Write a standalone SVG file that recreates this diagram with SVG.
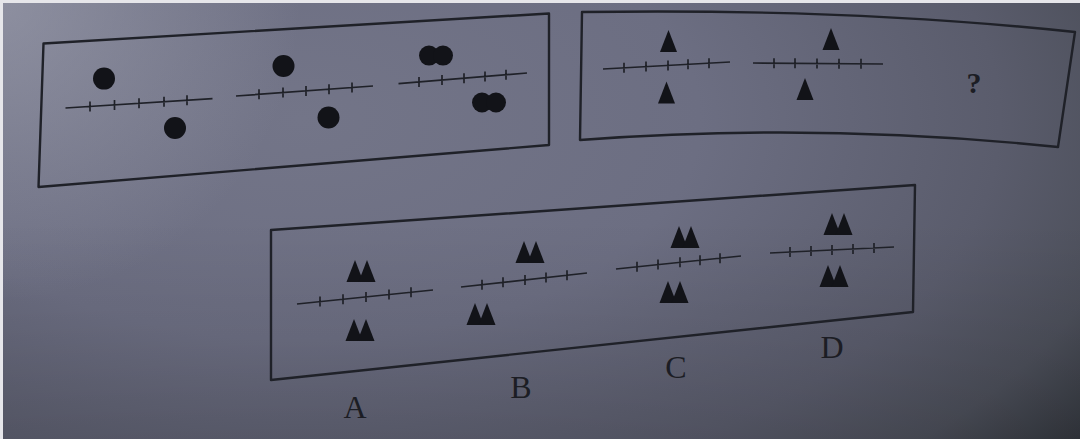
<svg xmlns="http://www.w3.org/2000/svg" width="1080" height="439" viewBox="0 0 1080 439">
<defs>
<radialGradient id="bg" cx="300" cy="120" r="1000" gradientUnits="userSpaceOnUse" gradientTransform="translate(300 120) scale(1 0.55) translate(-300 -120)">
<stop offset="0" stop-color="#737588"/>
<stop offset="0.4" stop-color="#6c6e82"/>
<stop offset="0.7" stop-color="#5a5c6c"/>
<stop offset="0.85" stop-color="#4c4f5a"/>
<stop offset="1" stop-color="#2e3238"/>
</radialGradient>
<radialGradient id="glow" cx="0" cy="0" r="300" gradientUnits="userSpaceOnUse">
<stop offset="0" stop-color="#a8aab8" stop-opacity="0.55"/>
<stop offset="1" stop-color="#a8aab8" stop-opacity="0"/>
</radialGradient>
<linearGradient id="shade" x1="0" y1="220" x2="0" y2="439" gradientUnits="userSpaceOnUse">
<stop offset="0" stop-color="#000" stop-opacity="0"/>
<stop offset="1" stop-color="#000" stop-opacity="0.12"/>
</linearGradient>
<path id="tri" d="M0,-11 L8.5,11 L-8.5,11 Z"/>
<g id="dtri"><use href="#tri" x="-6"/><use href="#tri" x="6"/></g>
<circle id="dot" r="11"/>
<g id="ddot"><circle cx="-7" r="10"/><circle cx="7" r="10"/></g>
</defs>
<style>
.box{fill:none;stroke:#1f2128;stroke-width:2.4;stroke-linejoin:round}
.ln{stroke:#1f2128;stroke-width:1.7;fill:none}
.fig{fill:#121318}
.lbl{font-family:"Liberation Serif",serif;fill:#1c1d24}
</style>
<rect width="1080" height="439" fill="url(#bg)"/>
<rect width="1080" height="439" fill="url(#glow)"/>
<rect width="1080" height="439" fill="url(#shade)"/>
<rect x="0" y="0" width="3" height="439" fill="#e6e6ea"/>
<rect x="0" y="0" width="1080" height="3" fill="#e6e6ea"/>

<g id="panel-question">
<polygon class="box" points="43.5,43.5 549,13.5 549,145 38.5,187"/>
<g id="fig1">
<path class="ln" d="M65.5,108 L212.5,98.6 M90,101.4 v10 M114.5,99.9 v10 M139,98.3 v10 M164,96.7 v10 M187,95.2 v10"/>
<use class="fig" href="#dot" x="104" y="78.6"/>
<use class="fig" href="#dot" x="175" y="128"/>
</g>
<g id="fig2">
<path class="ln" d="M236,96 L373,86 M259,89.3 v10 M283,87.6 v10 M306,85.9 v10 M329,84.2 v10 M352,82.5 v10"/>
<use class="fig" href="#dot" x="283.5" y="66"/>
<use class="fig" href="#dot" x="328.5" y="117.5"/>
</g>
<g id="fig3">
<path class="ln" d="M398.5,83.7 L527,73 M419,77 v10 M442,75.1 v10 M464,73.3 v10 M485,71.5 v10 M506,69.8 v10"/>
<use class="fig" href="#ddot" x="436" y="55.6"/>
<use class="fig" href="#ddot" x="489" y="102.5"/>
</g>
</g>

<g id="panel-triangles">
<path class="box" d="M582,12 Q850,8 1075,32 L1058,147 Q820,122 580,140 Z"/>
<g id="fig4">
<path class="ln" d="M603,69 L730,62 M624,62.8 v10 M646,61.6 v10 M668,60.4 v10 M688,59.3 v10 M709,58.2 v10"/>
<use class="fig" href="#tri" x="668.5" y="41"/>
<use class="fig" href="#tri" x="666.5" y="92.5"/>
</g>
<g id="fig5">
<path class="ln" d="M753,63 L883,64 M774,58.2 v10 M795,58.3 v10 M817,58.5 v10 M839,58.7 v10 M861,58.8 v10"/>
<use class="fig" href="#tri" x="831" y="39"/>
<use class="fig" href="#tri" x="805" y="89"/>
</g>
<text class="lbl" x="974" y="93" font-size="30" font-weight="bold" text-anchor="middle">?</text>
</g>

<g id="panel-options">
<polygon class="box" points="271,230 915,185 913,312 271,380"/>
<g id="optA">
<path class="ln" d="M297,304 L433,290 M320,296.6 v10 M343,294.3 v10 M366,291.9 v10 M389,289.5 v10 M411,287.3 v10"/>
<use class="fig" href="#dtri" x="361" y="271"/>
<use class="fig" href="#dtri" x="360" y="330"/>
</g>
<g id="optB">
<path class="ln" d="M461,287 L587,273 M482,279.7 v10 M503,277.3 v10 M525,274.9 v10 M546,272.6 v10 M567,270.2 v10"/>
<use class="fig" href="#dtri" x="530" y="252"/>
<use class="fig" href="#dtri" x="481" y="314"/>
</g>
<g id="optC">
<path class="ln" d="M616,269 L741,256 M637,261.8 v10 M658,259.6 v10 M680,257.3 v10 M700,255.3 v10 M720,253.2 v10"/>
<use class="fig" href="#dtri" x="685" y="237"/>
<use class="fig" href="#dtri" x="674" y="292"/>
</g>
<g id="optD">
<path class="ln" d="M770,253 L894,247 M790,247 v10 M811,246 v10 M832,245 v10 M853,244 v10 M874,243 v10"/>
<use class="fig" href="#dtri" x="838" y="224"/>
<use class="fig" href="#dtri" x="834" y="276"/>
</g>
</g>

<g id="labels">
<text class="lbl" x="355" y="418" font-size="32" text-anchor="middle">A</text>
<text class="lbl" x="521" y="398" font-size="32" text-anchor="middle">B</text>
<text class="lbl" x="676" y="378" font-size="32" text-anchor="middle">C</text>
<text class="lbl" x="832" y="358" font-size="32" text-anchor="middle">D</text>
</g>
</svg>
